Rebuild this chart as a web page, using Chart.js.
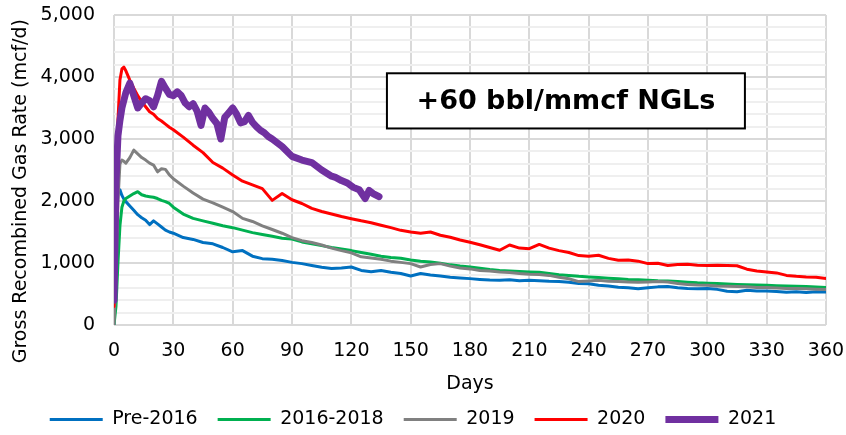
<!DOCTYPE html>
<html>
<head>
<meta charset="utf-8">
<script src="https://cdn.jsdelivr.net/npm/chart.js@4.4.1/dist/chart.umd.min.js"></script>
<style>
  html, body { margin: 0; padding: 0; background: #fff; }
</style>
</head>
<body>
<canvas id="myChart" width="846" height="435"></canvas>
<script>
// days since first production (shared by the older vintages)
var days = [0,1,2,3,4,5,6,8,10,12,14,16,18,20,22,24,26,28,30,
    35,40,45,50,55,60,65,70,75,80,85,90,95,100,
    105,110,115,120,125,130,135,140,145,150,155,160,165,170,175,180,
    185,190,195,200,205,210,215,220,225,230,235,240,245,250,255,260,
    265,270,275,280,285,290,295,300,305,310,315,320,325,330,335,340,345,350,355,360];

var pre2016 = [0,1400,2150,2180,2090,2030,1990,1920,1850,1780,1730,1690,1620,1680,1630,1580,1530,1500,1480,
    1410,1380,1330,1310,1250,1180,1200,1110,1070,1060,1040,1010,990,960,
    930,910,920,935,880,860,880,850,830,790,830,805,790,770,760,748,
    735,725,721,730,715,720,715,705,700,690,670,665,640,630,610,600,
    585,600,615,620,600,590,585,590,575,545,535,560,550,548,540,530,535,525,535,532];

var y2016_2018 = [0,300,1000,1600,1900,2000,2040,2080,2120,2150,2100,2080,2070,2060,2040,2010,1990,1960,1900,
    1790,1720,1680,1640,1600,1570,1530,1490,1460,1430,1400,1385,1340,1310,
    1280,1250,1225,1200,1170,1140,1110,1090,1075,1050,1030,1015,995,970,950,935,
    915,895,880,870,862,855,850,830,812,800,785,775,765,755,745,735,
    730,720,712,708,700,690,680,675,668,660,655,650,645,640,635,630,625,620,612,603];

var y2019 = [0,800,2000,2600,2660,2640,2610,2700,2820,2760,2700,2660,2610,2580,2470,2520,2510,2420,2360,
    2240,2130,2030,1970,1900,1830,1720,1670,1600,1540,1480,1410,1360,1330,
    1290,1240,1200,1165,1100,1080,1060,1030,1010,990,935,975,990,950,920,905,
    880,870,855,845,830,820,815,800,770,745,700,710,720,705,700,695,
    690,695,700,694,670,655,645,640,630,625,620,615,605,603,598,590,587,585,578,571];

var y2020 = [300,2000,3300,3950,4130,4160,4100,3950,3820,3700,3600,3520,3440,3400,3330,3290,3240,3190,3150,
    3030,2900,2780,2620,2530,2420,2320,2260,2200,2010,2120,2020,1960,1880,
    1830,1790,1750,1715,1680,1650,1610,1570,1527,1500,1480,1500,1447,1415,1370,1335,
    1295,1250,1205,1290,1240,1230,1300,1240,1200,1170,1120,1110,1125,1075,1045,1050,
    1030,990,995,960,975,980,965,960,965,960,955,900,870,855,840,800,785,775,770,748];

// 2021 wells only have ~134 days of history
var days2021 = [0,1,2,3,4,6,8,10,12,14,16,18,20,22,24,26,28,30,32,34,36,38,40,42,44,
    46,48,50,52,54,56,58,60,62,64,66,68,70,72,74,76,78,80,
    85,90,95,100,105,110,112,115,118,121,124,127,129,131,134];
var y2021 = [400,2300,3050,3300,3500,3750,3900,3700,3500,3580,3650,3620,3520,3700,3930,3820,3720,3700,3760,3700,3580,3520,3570,3450,3220,
    3500,3430,3330,3250,3000,3350,3420,3500,3400,3260,3280,3380,3270,3200,3140,3100,3040,3000,
    2880,2720,2660,2620,2500,2400,2380,2330,2290,2220,2180,2040,2170,2120,2070];

var seriesNames = ['Pre-2016', '2016-2018', '2019', '2020', '2021'];
var seriesColors = ['#0070C0', '#00B050', '#808080', '#FF0000', '#7030A0'];
var xTicks = [0, 360, 30];      // min, max, step
var yTicks = [0, 5000, 200];    // minor grid every 200, labels every 1000
var noteText = '+60 bbl/mmcf NGLs';

var FONT = 'DejaVu Sans';

function toPoints(xs, ys) {
    return ys.map(function(v, i) { return {x: xs[i], y: v}; });
}

var allData = [toPoints(days, pre2016), toPoints(days, y2016_2018), toPoints(days, y2019),
               toPoints(days, y2020), toPoints(days2021, y2021)];

var datasets = seriesNames.map(function(name, i) {
    var big = i === 4;
    return {
        label: name,
        data: allData[i],
        borderColor: seriesColors[i],
        backgroundColor: seriesColors[i],
        borderWidth: big ? 7 : 3,
        borderCapStyle: 'round',
        borderJoinStyle: 'round',
        pointRadius: 0,
        pointHoverRadius: 0,
        pointStyle: 'line',
        tension: 0,
        fill: false,
        order: 5 - i   // later vintages on top, like the original
    };
});

// text box in the upper right of the plot
var noteBox = {
    id: 'noteBox',
    afterDraw: function(chart) {
        var ctx = chart.ctx;
        var xs = chart.scales.x, ys = chart.scales.y;
        var l = xs.getPixelForValue(138), r = xs.getPixelForValue(319);
        var t = ys.getPixelForValue(4060), b = ys.getPixelForValue(3170);
        ctx.save();
        ctx.fillStyle = '#fff';
        ctx.fillRect(l, t, r - l, b - t);
        ctx.strokeStyle = '#000';
        ctx.lineWidth = 2;
        ctx.strokeRect(l, t, r - l, b - t);
        ctx.fillStyle = '#000';
        ctx.font = 'bold 27px "' + FONT + '"';
        ctx.textAlign = 'center';
        ctx.textBaseline = 'middle';
        ctx.fillText(noteText, (l + r) / 2, (t + b) / 2 + 1);
        ctx.restore();
    }
};

var myChart = new Chart(
    document.getElementById('myChart'),
    {
        type: 'line',
        data: { datasets: datasets },
        plugins: [noteBox],
        options: {
            responsive: false,
            animation: false,
            events: [],
            layout: { padding: { top: 15, right: 20, left: 0, bottom: -4 } },
            plugins: {
                tooltip: { enabled: false },
                legend: {
                    position: 'bottom',
                    labels: {
                        usePointStyle: true,
                        pointStyleWidth: 53,
                        padding: 20,
                        color: '#000',
                        font: { family: FONT, size: 19 },
                        sort: function(a, b) { return a.datasetIndex - b.datasetIndex; }
                    }
                }
            },
            scales: {
                x: {
                    type: 'linear',
                    min: xTicks[0],
                    max: xTicks[1],
                    ticks: {
                        stepSize: xTicks[2],
                        autoSkip: false,
                        maxRotation: 0,
                        padding: 15,
                        color: '#000',
                        font: { family: FONT, size: 19 }
                    },
                    grid: { color: '#d9d9d9', lineWidth: 2, drawTicks: false },
                    border: { display: false },
                    title: {
                        display: true,
                        text: 'Days',
                        color: '#000',
                        font: { family: FONT, size: 19, lineHeight: 1 },
                        padding: { top: 0, bottom: -4 }
                    },
                    afterFit: function(scale) {
                        scale.height = 65;
                        // let the layout padding decide the plot edges
                        scale.paddingLeft = 0;
                        scale.paddingRight = 0;
                    }
                },
                y: {
                    min: yTicks[0],
                    max: yTicks[1],
                    ticks: {
                        stepSize: yTicks[2],
                        autoSkip: false,
                        padding: 19,
                        color: '#000',
                        font: { family: FONT, size: 19 },
                        callback: function(v) {
                            return v % 1000 === 0 ? v.toLocaleString('en-US') : '';
                        }
                    },
                    grid: {
                        drawTicks: false,
                        lineWidth: 2,
                        color: function(c) {
                            return c.tick && c.tick.value % 1000 === 0 ? '#d9d9d9' : '#efefef';
                        }
                    },
                    border: { display: false },
                    title: {
                        display: true,
                        // trailing spaces nudge the rotated title down, as in the original
                        text: 'Gross Recombined Gas Rate (mcf/d)       ',
                        color: '#000',
                        font: { family: FONT, size: 19 },
                        padding: 10
                    },
                    afterFit: function(scale) {
                        scale.width = 114;
                        scale.paddingTop = 0;
                        scale.paddingBottom = 0;
                    }
                }
            }
        }
    }
);
</script>
</body>
</html>
